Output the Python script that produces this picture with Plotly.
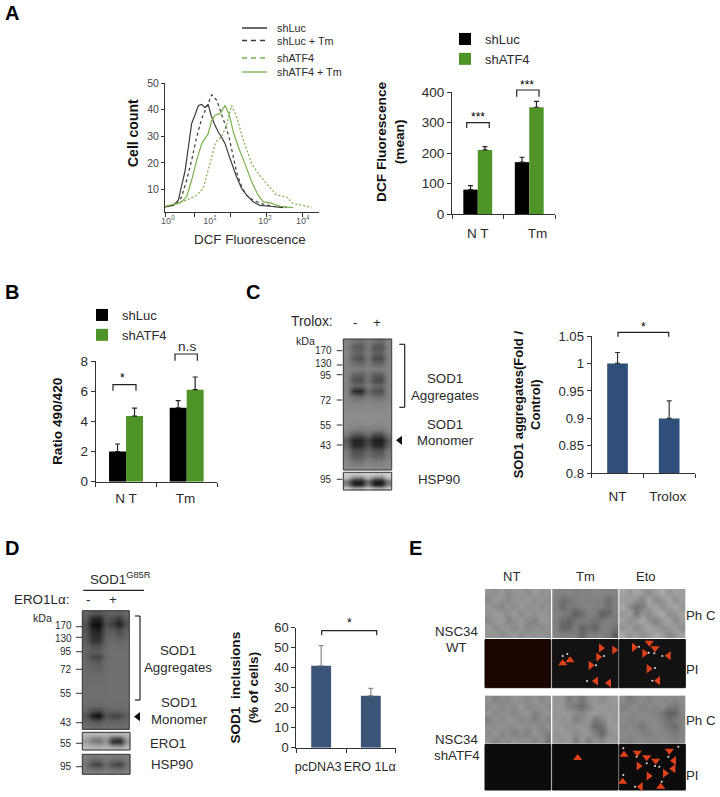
import plotly.graph_objects as go

W, H = 720, 797

# ---------- data: panel A histogram (x = decades along the axis, y = cell count)
hist_luc_x = [0,.23,.37,.46,.56,.65,.74,.83,.93,1.02,1.11,1.2,1.28,1.39,1.48,1.57,1.67,1.76,1.85,1.99,2.13,2.27,2.45,2.64,2.92,3.29]
hist_luc_y = [3.5,4.1,6,11,17.25,26,34.75,37.9,41.6,42,40.75,42,37.9,34.1,31.6,29.75,27.25,23.5,19.75,14.75,10.4,7.9,5.4,4.1,3.75,3.25]
hist_luctm_x = [0,.32,.46,.6,.74,.88,1.02,1.16,1.3,1.44,1.57,1.71,1.8,1.9,1.99,2.13,2.27,2.45,2.73,3.01,3.38]
hist_luctm_y = [3.5,4.5,7.25,13.5,21,29.75,36.6,41,45.6,43.5,38.5,32.9,28.5,22.25,16.6,11,7.9,6,4.5,3.75,3.25]
hist_atf_x = [0,.6,.88,1.06,1.25,1.41,1.57,1.71,1.85,1.99,2.18,2.41,2.59,2.82,3.1,3.38,3.56,3.84,4.07]
hist_atf_y = [3.5,6,7.9,10.4,19.75,27.9,29.75,34.1,41.6,37.25,28.5,19.75,16,12.25,7.9,7.25,4.75,4.1,3.25]
hist_atftm_x = [0,.42,.6,.74,.88,1.02,1.2,1.3,1.39,1.53,1.67,1.79,1.9,2.04,2.22,2.41,2.59,2.73,2.92,3.2,3.56]
hist_atftm_y = [3.75,5,7.25,13.5,21,27.25,31,36,37.9,38.5,41.6,37.9,31.6,26,19.75,12.9,7.9,5.4,5,3.75,3.25]
hist_minor_ticks = [0,.83,1.83,2.83,3.83]
hist_label_pos = [.08,1.25,2.78,3.83]
hist_labels = ["10<sup>0</sup>","10<sup>1</sup>","10<sup>2</sup>","10<sup>4</sup>"]

# ---------- data: bar panels
groups = ["N T","Tm"]
slots = [0, 1]
a_luc, a_luc_err = [80,170], [13,16]
a_atf, a_atf_err = [210,350], [11,19]
b_luc, b_luc_err = [2.0,4.9], [.5,.47]
b_atf, b_atf_err = [4.35,6.1], [.53,.84]
c_cat, c_val, c_err = ["NT","Trolox"], [1.0,0.9], [.02,.032]
d_cat, d_val, d_err = ["pcDNA3","ERO 1Lα"], [41,26], [10,3.7]

# ---------- data: blots (grey levels 0-255)
blot_c = [
[130,115,110,125,110,105,130],[130,95,90,120,85,85,130],[130,105,100,125,95,95,130],[130,90,80,120,75,75,130],
[130,110,105,125,100,100,130],[132,125,125,130,125,125,132],[130,100,95,120,90,90,130],[130,80,80,115,75,75,130],
[130,105,100,125,105,100,130],[130,45,40,110,80,80,130],[130,110,105,125,110,110,130],[135,130,130,133,130,130,135],
[138,138,138,138,138,138,138],[140,140,140,140,140,140,140],[140,140,140,140,140,140,140],[140,138,138,140,138,138,140],
[135,125,125,130,125,125,135],[120,85,85,110,75,75,120],[90,35,35,70,30,30,90],[100,40,40,80,40,40,100],
[120,80,80,105,85,85,120],[125,90,95,115,100,100,125],[135,115,115,130,125,125,135],[140,135,135,140,135,135,140]]
hsp_c = [[205,190,195,205,195,190,205],[190,120,115,180,115,115,190],[120,35,30,110,30,30,120],[130,40,35,120,35,35,130],[205,170,175,205,175,170,205]]
blot_d = [
[100,85,85,95,100,95,105],[90,40,30,85,75,55,90],[80,15,10,80,60,30,80],[85,35,30,90,90,70,95],[90,50,45,95,100,85,100],
[90,50,50,100,105,100,105],[100,80,80,105,110,110,110],[105,90,95,110,112,112,112],[100,75,70,105,112,112,112],[105,95,90,110,112,112,112],
[105,100,95,110,112,112,112],[108,105,105,110,112,112,112],[108,108,108,110,112,112,112],[108,108,108,110,112,112,112],[110,110,110,110,112,112,112],
[110,110,110,110,112,112,112],[110,110,110,110,112,112,112],[108,105,105,108,110,110,110],[100,80,75,100,100,100,105],[85,30,15,85,70,70,95],
[100,90,85,100,100,100,105],[110,105,105,108,110,110,110]]
ero_d = [[185,180,180,180,175,175,185],[170,135,130,160,90,85,170],[155,125,120,150,45,40,150],[175,160,155,170,120,115,170],[190,185,185,185,180,180,190]]
hsp_d = [[125,120,120,125,120,120,125],[120,100,100,118,105,100,120],[115,70,65,110,75,65,115],[120,105,100,118,105,100,120],[128,125,125,128,125,125,128]]

# ---------- data: phase contrast micrographs (grey levels, 10 x 7 coarse read)
phc_wt_nt = [
[150,142,155,138,148,152,140,156,145,150],[138,155,146,135,150,143,155,140,152,138],[152,140,132,148,138,155,142,150,135,148],
[145,156,148,140,155,136,150,144,156,142],[136,148,155,130,145,152,138,128,148,150],[155,140,145,152,136,148,130,142,136,144],[148,152,138,146,155,140,150,146,152,140]]
phc_wt_tm = [
[132,130,134,128,132,130,134,132,130,134],[130,112,118,130,132,128,130,130,108,128],[128,105,126,118,130,132,128,126,112,130],
[132,126,120,92,108,130,126,92,105,128],[128,108,98,118,128,122,112,122,130,126],[130,100,105,125,98,110,98,128,128,112],[132,128,130,126,102,128,126,130,122,92]]
phc_wt_eto = [
[165,150,168,155,140,160,172,148,162,155],[155,160,145,130,168,135,150,165,140,160],[168,140,118,125,155,165,140,155,170,148],
[150,165,115,150,135,160,170,138,150,165],[162,138,155,168,145,128,155,165,135,155],[145,160,135,150,165,150,140,150,160,140],[168,148,162,140,155,170,158,135,150,165]]
phc_sh_nt = [
[145,128,140,135,150,142,138,148,135,145],[138,148,132,145,138,150,135,142,150,138],[150,135,145,140,132,145,150,128,140,148],
[128,145,138,150,145,135,142,125,145,135],[145,138,150,135,142,148,138,145,130,145],[140,150,132,145,125,138,128,148,138,128],[148,135,142,138,150,140,145,135,145,120]]
phc_sh_tm = [
[150,148,125,140,118,145,152,138,150,155],[155,150,130,122,108,128,150,155,148,152],[148,155,150,140,135,150,155,148,155,150],
[152,145,148,125,140,152,120,135,155,148],[155,150,145,148,150,140,105,112,150,155],[148,155,150,140,148,150,128,100,140,152],[152,148,155,128,150,125,148,135,155,150]]
phc_sh_eto = [
[140,118,135,140,130,142,138,140,135,142],[128,135,140,128,138,135,142,125,118,138],[138,140,130,140,132,128,118,95,100,135],
[140,128,138,135,140,135,125,110,125,130],[132,140,128,118,135,140,130,120,105,135],[140,135,140,130,128,138,135,130,125,132],[135,130,138,140,135,132,140,135,128,138]]

# ---------- data: PI panels (arrowheads and bright nuclei, in picture pixels)
arrows_right_x = [601,614.3,598.3,590.7,634,644.3,648.7,638.7,665,648.7]
arrows_right_y = [648,650,657,665.3,647.3,653.3,668.7,766,773.3,776]
arrows_left_x = [596,609,668.7,658,674,673.3,640.7]
arrows_left_y = [681,683,655.7,680.7,760.7,768.7,786.7]
arrows_up_x = [570,562.7,577.7,624,622.7,660.7]
arrows_up_y = [660.3,663.3,758,754.7,781.7,786.7]
arrows_down_x = [649.3,655,637.3,669.3,646.7,655.7]
arrows_down_y = [642.7,648.3,752.7,750.7,757.3,760.7]
dots_x = [562.7,567.3,596,587,604,639,648.7,654.3,662.3,655,652.3,623.3,636.7,668.3,655,659.3,646.7,678.3,661.7,623.3,635]
dots_y = [656,654,665.3,681,656,646.7,652.7,653.3,656,668,680.7,748.3,756.7,756.7,766,766.7,763.3,746.7,781.7,775,786.7]

# ---------- helpers
fx = lambda p: p / W
fy = lambda p: 1 - p / H
TXT = "#2a2a2a"
FONT = "Liberation Sans, Arial, sans-serif"
ann, shp = [], []

def lab(x, y, t, size=13.3, anchor="center", bold=False, angle=0, color=TXT):
    ann.append(dict(x=fx(x), y=fy(y), xref="paper", yref="paper", text=t,
                    showarrow=False, xanchor=anchor, yanchor="middle", textangle=angle,
                    font=dict(size=size, color=color, family=FONT, weight="bold" if bold else "normal")))

def line(x0, y0, x1, y1, w=1, color="#333", dash="solid"):
    shp.append(dict(type="line", xref="paper", yref="paper", x0=fx(x0), x1=fx(x1), y0=fy(y0), y1=fy(y1),
                    line=dict(width=w, color=color, dash=dash)))

def bracket(x0, x1, top, leg, w=1.2):
    shp.append(dict(type="path", xref="paper", yref="paper",
                    path=f"M{fx(x0)},{fy(leg)} L{fx(x0)},{fy(top)} L{fx(x1)},{fy(top)} L{fx(x1)},{fy(leg)}",
                    line=dict(width=w, color="#222")))

def box(x0, y0, x1, y1, fill=None, lc="#333", w=1, layer="above"):
    d = dict(type="rect", xref="paper", yref="paper", x0=fx(x0), x1=fx(x1), y0=fy(y0), y1=fy(y1), layer=layer,
             line=dict(width=w, color=lc))
    if fill:
        d["fillcolor"] = fill
    shp.append(d)

fig = go.Figure()
PAGE = dict(xaxis="x6", yaxis="y6")

def image(z, x0, y0, x1, y1):
    nr, nc = len(z), len(z[0])
    dx, dy = (x1 - x0) / nc, (y1 - y0) / nr
    fig.add_trace(go.Heatmap(z=z, x0=x0 + dx / 2, dx=dx, y0=y0 + dy / 2, dy=dy, zmin=0, zmax=255, zsmooth="best",
                             colorscale=[[0, "black"], [1, "white"]], showscale=False, hoverinfo="skip",
                             showlegend=False, **PAGE))

# ---------- panel A histogram
H_BLK, H_GRN = "#3a3a3a", "#78b04a"
for x, y, name, c, dash in [
    (hist_luc_x, hist_luc_y, "shLuc", H_BLK, "solid"),
    (hist_luctm_x, hist_luctm_y, "shLuc + Tm", H_BLK, "3px,3px"),
    (hist_atf_x, hist_atf_y, "shATF4", H_GRN, "2px,2px"),
    (hist_atftm_x, hist_atftm_y, "shATF4 + Tm", H_GRN, "solid")]:
    fig.add_trace(go.Scatter(x=x, y=y, name=name, mode="lines", line=dict(color=c, width=1.2, dash=dash),
                             showlegend=False, xaxis="x", yaxis="y"))
for t, y, c, d, lw in [("shLuc", 28, H_BLK, "solid", 1.5), ("shLuc + Tm", 40.5, H_BLK, "5px,4px", 1.5),
                       ("shATF4", 58, H_GRN, "5px,4px", 1.5), ("shATF4 + Tm", 72, H_GRN, "solid", 1.3)]:
    line(242, y, 267, y, lw, c, d)
    lab(275, y, t, 10.8, "left")

# ---------- panel A / B grouped bars
BLK, GRN = "#000000", "#4f9428"
def grouped(luc, le, atf, ae, xa, ya, leg):
    for vals, err, name, col in [(luc, le, "shLuc", BLK), (atf, ae, "shATF4", GRN)]:
        fig.add_trace(go.Bar(x=slots, y=vals, name=name, marker=dict(color=col, line=dict(width=0)), legend=leg,
                             error_y=dict(type="data", array=err, arrayminus=[0, 0], symmetric=False,
                                          color="#222", thickness=1.2, width=2.5),
                             xaxis=xa, yaxis=ya))
grouped(a_luc, a_luc_err, a_atf, a_atf_err, "x2", "y2", "legend2")
grouped(b_luc, b_luc_err, b_atf, b_atf_err, "x3", "y3", "legend3")

# ---------- panel C / D single bars
fig.add_trace(go.Bar(x=slots, y=c_val, width=.4, marker=dict(color="#2f4e79", line=dict(width=0)), showlegend=False,
                     error_y=dict(type="data", array=c_err, arrayminus=[0, 0], symmetric=False, color="#333", thickness=1.2, width=2.5),
                     xaxis="x4", yaxis="y4"))
fig.add_trace(go.Bar(x=slots, y=d_val, width=.4, marker=dict(color="#3b5478", line=dict(width=0)), showlegend=False,
                     error_y=dict(type="data", array=d_err, arrayminus=[0, 0], symmetric=False, color="#8a8a8a", thickness=1.2, width=2.5),
                     xaxis="x5", yaxis="y5"))

# ---------- blots and micrographs
image(blot_c, 343.3, 339, 391.7, 470)
image(hsp_c, 343.3, 472.3, 391.7, 490)
image(blot_d, 82.3, 610.7, 129.3, 729.3)
image(ero_d, 82.3, 732.3, 130, 750)
image(hsp_d, 82.3, 754.3, 130, 774.3)
for b in [(343.3, 339, 391.7, 470), (343.3, 472.3, 391.7, 490), (82.3, 610.7, 129.3, 729.3), (82.3, 732.3, 130, 750), (82.3, 754.3, 130, 774.3)]:
    box(*b)

cols = [(485, 550.7), (552.3, 618), (619.3, 685.3)]
for c, z in zip(cols, [phc_wt_nt, phc_wt_tm, phc_wt_eto]):
    image(z, c[0], 589, c[1], 638)
for c, z in zip(cols, [phc_sh_nt, phc_sh_tm, phc_sh_eto]):
    image(z, c[0], 695.7, c[1], 743.3)
box(485, 639.5, 550.7, 687.7, fill="#1a0500", lc="#1a0500", layer="below")
box(552.3, 639.5, 618, 687.7, fill="#121212", lc="#121212", layer="below")
box(619.3, 639.5, 685.3, 687.7, fill="#121212", lc="#121212", layer="below")
for c in cols:
    box(c[0], 744.5, c[1], 790, fill="#0c0c0c", lc="#0c0c0c", layer="below")

fig.add_trace(go.Scatter(x=dots_x, y=dots_y, mode="markers", marker=dict(size=2, color="#e8e8e8"), showlegend=False, hoverinfo="skip", **PAGE))
RED = "#e0401a"
for xs, ys, sym in [(arrows_right_x, arrows_right_y, "triangle-right"), (arrows_left_x, arrows_left_y, "triangle-left"),
                    (arrows_up_x, arrows_up_y, "triangle-up"), (arrows_down_x, arrows_down_y, "triangle-down")]:
    fig.add_trace(go.Scatter(x=xs, y=ys, mode="markers", marker=dict(size=8, color=RED, symbol=sym, line=dict(width=0)),
                             showlegend=False, hoverinfo="skip", **PAGE))
fig.add_trace(go.Scatter(x=[400, 138], y=[440.3, 716.7], mode="markers",
                         marker=dict(size=8, color="#111", symbol="triangle-left", line=dict(width=0)),
                         showlegend=False, hoverinfo="skip", **PAGE))

# ---------- panel letters
for t, x, y in [("A", 12, 13), ("B", 12, 292), ("C", 253, 292), ("D", 12, 548), ("E", 416, 548)]:
    lab(x, y, t, size=20, bold=True, color="#000")

# ---------- titles placed off-centre in the reference
lab(250, 239, "DCF Fluorescence", 13.4)
lab(133, 133, "Cell count", 14, bold=True, angle=-90, color="#111")
lab(390, 142, "DCF Fluorescence<br>(mean)", 13.7, bold=True, angle=-90, color="#111")

# ---------- brackets and significance marks
bracket(466.7, 489.3, 122.7, 128); lab(478, 117, "***", 12, color="#000")
bracket(516.7, 539, 90, 96.7); lab(527, 85, "***", 12, color="#000")
bracket(113, 136, 384.7, 390.7); lab(122.7, 378, "*", 12, color="#000")
bracket(175, 197.3, 354, 360.7); lab(187, 346, "n.s", 13.7)
bracket(618, 668.7, 332.3, 336.7); lab(643, 327, "*", 12, color="#000")
bracket(321.7, 376.7, 630.7, 635.3); lab(349, 623, "*", 12, color="#000")

# ---------- panel C text
lab(335, 321.7, "Trolox:", 13.8, "right"); lab(355.7, 322, "-", 13.5); lab(376.7, 322, "+", 13.5)
lab(305, 341, "kDa", 10.7)
for t, y, ty in [("170", 350.7, 350.7), ("130", 365, 363.5), ("95", 374.7, 375.5), ("72", 400, 400), ("55", 425, 425), ("43", 445, 445), ("95", 479.3, 479.3)]:
    lab(334, ty, t, 10, "right"); line(336.7, y, 342.3, y)
bracket(399.3, 404.7, 344.3, 344.3); line(404.7, 344.3, 404.7, 407.3, 1.2, "#222"); line(399.3, 407.3, 404.7, 407.3, 1.2, "#222")
lab(445, 378.3, "SOD1"); lab(445, 395, "Aggregates"); lab(445, 424.3, "SOD1"); lab(445, 440.7, "Monomer"); lab(439, 479, "HSP90")

# ---------- panel D text
lab(120, 578, "SOD1<sup>G85R</sup>", 13.3); line(83.3, 590.3, 144, 590.3, 1.2, "#222")
lab(70.7, 599.3, "ERO1Lα:", 13.4, "right"); lab(88.3, 599.5, "-", 13.5); lab(113.3, 599.5, "+", 13.5)
lab(42.7, 617.7, "kDa", 10.7)
for t, y, ty in [("170", 626.7, 625.7), ("130", 637.3, 638), ("95", 651.7, 651.7), ("72", 669.3, 669.3), ("55", 693.3, 693.3), ("43", 722.7, 722.7), ("55", 743.3, 743.3), ("95", 766.7, 766.7)]:
    lab(74, ty, t, 10, "right"); line(76, y, 82.3, y)
line(135, 616, 140, 616, 1.2, "#222"); line(140, 616, 140, 700, 1.2, "#222"); line(135, 700, 140, 700, 1.2, "#222")
lab(178.3, 650, "SOD1"); lab(178.3, 667.3, "Aggregates"); lab(179, 702.7, "SOD1"); lab(179, 719.3, "Monomer")
lab(168, 743.3, "ERO1"); lab(171.7, 764.3, "HSP90")

# ---------- panel E text
for t, x in [("NT", 511.7), ("Tm", 585), ("Eto", 646)]:
    lab(x, 576.7, t, 13)
for t, y in [("NSC34", 631), ("WT", 647.3), ("NSC34", 739), ("shATF4", 755.7)]:
    lab(456.7, y, t)
for t, x, y in [("Ph C", 701, 615.7), ("PI", 692.7, 669), ("Ph C", 701, 720.7), ("PI", 692.7, 775)]:
    lab(x, y, t)

# ---------- axes
AX = dict(showgrid=False, zeroline=False, showline=True, linecolor="#333", linewidth=1, ticks="outside",
          tickcolor="#333", ticklen=4, tickfont=dict(size=13.5, color=TXT, family=FONT), automargin=False)
def dom(a, b, v=False):
    return [fy(b), fy(a)] if v else [fx(a), fx(b)]
def bar_x(y, a, b, labels, pos, standoff, **k):
    merged = dict(AX, domain=dom(a, b), anchor=y, type="linear", range=[-.5, 1.5], tickmode="array", tickvals=pos, ticktext=labels,
                  ticklen=0, ticklabelstandoff=standoff, tickangle=0,
                  minor=dict(tickmode="array", tickvals=[-.5, .5, 1.5], ticks="outside", ticklen=4, tickcolor="#333"))
    merged.update(k)
    return merged
def ytitle(t, size, standoff):
    return dict(text=t, font=dict(size=size, color="#111", family=FONT, weight="bold"), standoff=standoff)

fig.update_layout(
    width=W, height=H, margin=dict(l=0, r=0, t=0, b=0), paper_bgcolor="white", plot_bgcolor="rgba(0,0,0,0)",
    barmode="group", bargap=.44, bargroupgap=0, font=dict(family=FONT, color=TXT),
    annotations=ann, shapes=shp,
    legend2=dict(x=fx(445), y=fy(24), xanchor="left", yanchor="top", bgcolor="rgba(0,0,0,0)", font=dict(size=13, color=TXT), itemclick=False),
    legend3=dict(x=fx(82), y=fy(300), xanchor="left", yanchor="top", bgcolor="rgba(0,0,0,0)", font=dict(size=13, color=TXT), itemclick=False),
    xaxis=dict(AX, domain=dom(165, 319), anchor="y", range=[0, 4.28], tickmode="array", tickvals=hist_label_pos, ticktext=hist_labels,
               ticklen=0, tickfont=dict(size=9, color="#555", family=FONT),
               minor=dict(tickmode="array", tickvals=hist_minor_ticks, ticks="outside", ticklen=4, tickcolor="#333")),
    yaxis=dict(AX, domain=dom(83, 212, True), anchor="x", range=[1.6, 50], tickmode="array", tickvals=[10, 20, 30, 40, 50],
               tickfont=dict(size=10.5, color="#444", family=FONT), ticklen=3),
    xaxis2=bar_x("y2", 452, 555, groups, [0, 1.16], 7),
    yaxis2=dict(AX, domain=dom(92, 214, True), anchor="x2", range=[0, 400], tickvals=[0, 100, 200, 300, 400]),
    xaxis3=bar_x("y3", 95.7, 217, groups, [0, -.02 + 1], 4),
    yaxis3=dict(AX, domain=dom(361, 481.7, True), anchor="x3", range=[0, 8], tickvals=[0, 2, 4, 6, 8],
                title=ytitle("Ratio 490/420", 13.7, 14)),
    xaxis4=bar_x("y4", 591.7, 695, c_cat, [0, .97], 10),
    yaxis4=dict(AX, domain=dom(336, 473.3, True), anchor="x4", range=[.8, 1.05], tickvals=[.8, .85, .9, .95, 1, 1.05], ticktext=["0.8", "0.85", "0.9", "0.95", "1", "1.05"],
                tickfont=dict(size=13.2, color=TXT, family=FONT),
                title=ytitle("SOD1 aggregates(Fold /<br>Control)", 13, 14)),
    xaxis5=bar_x("y5", 296.3, 395.7, d_cat, [-.06, .98], 7, tickfont=dict(size=12.6, color=TXT, family=FONT)),
    yaxis5=dict(AX, domain=dom(627.7, 747.7, True), anchor="x5", range=[0, 60], tickvals=[0, 10, 20, 30, 40, 50, 60],
                tickfont=dict(size=13, color=TXT, family=FONT),
                title=ytitle("SOD1  inclusions<br>(% of cells)", 13.6, 12)),
    xaxis6=dict(domain=[0, 1], range=[0, W], visible=False, anchor="y6"),
    yaxis6=dict(domain=[0, 1], range=[H, 0], visible=False, anchor="x6"),
)
fig.write_html("out.html", post_script="document.body.style.margin='0';", config=dict(displayModeBar=False))
